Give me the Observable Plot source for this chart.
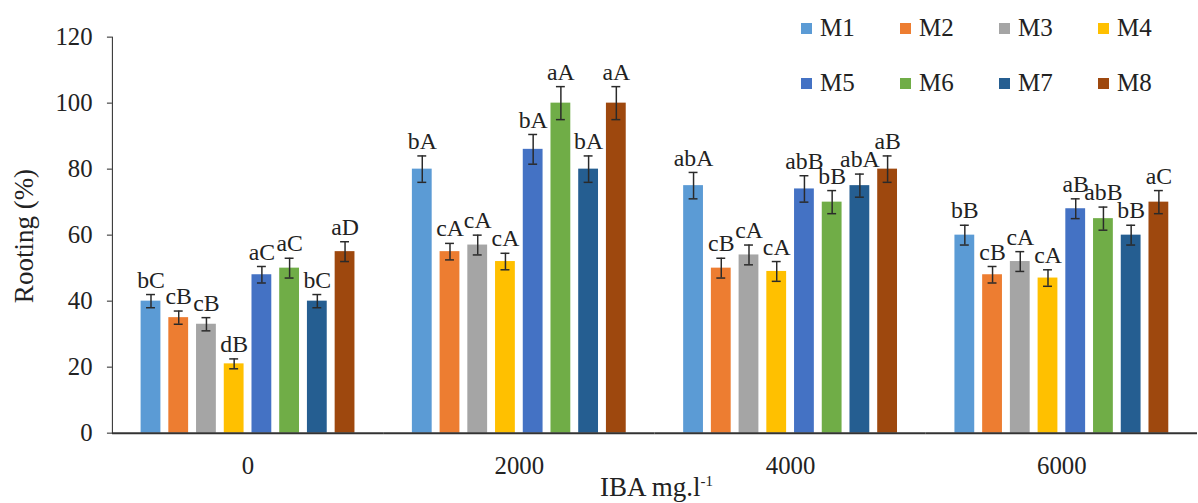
<!DOCTYPE html>
<html>
<head>
<meta charset="utf-8">
<script src="https://cdn.jsdelivr.net/npm/d3@7"></script>
<script src="https://cdn.jsdelivr.net/npm/@observablehq/plot@0.6"></script>
<style>
  html, body { margin: 0; padding: 0; background: #fff; overflow: hidden; }
  #wrap { position: relative; width: 1198px; height: 503px; overflow: hidden; }
  #chart svg, #chart svg text { font-family: "Liberation Serif", serif !important; }
  #legend { position: absolute; left: 801px; top: 13px; font-family: "Liberation Serif", serif; font-size: 25px; color: #222; }
  .row { display: flex; height: 30px; line-height: 30px; margin-bottom: 25px; }
  .item { width: 99px; display: flex; align-items: center; }
  .sw { width: 11px; height: 11px; margin-right: 8px; }
  #xtitle { position: absolute; left: 600px; top: 474px; font-family: "Liberation Serif", serif; font-size: 27px; line-height: 27px; color: #222; white-space: nowrap; }
  #xtitle sup { font-size: 15px; vertical-align: 10px; line-height: 0; }
  #ytitle { position: absolute; left: 24px; top: 236px; transform: translate(-50%, -50%) rotate(-90deg); font-family: "Liberation Serif", serif; font-size: 27px; line-height: 27px; color: #222; white-space: nowrap; }
</style>
</head>
<body>
<div id="wrap">
  <div id="chart"></div>
  <div id="legend"></div>
  <div id="ytitle">Rooting (%)</div>
  <div id="xtitle">IBA mg.l<sup>-1</sup></div>
</div>
<script>
const doses = ["0", "2000", "4000", "6000"];
const series = ["M1", "M2", "M3", "M4", "M5", "M6", "M7", "M8"];
const colors = ["#5B9BD5", "#ED7D31", "#A5A5A5", "#FFC000", "#4472C4", "#70AD47", "#255E91", "#9E480E"];
const yTicks = [0, 20, 40, 60, 80, 100, 120];

const rooting0    = [40, 35, 33, 21, 48, 50, 40, 55];
const rooting2000 = [80, 55, 57, 52, 86, 100, 80, 100];
const rooting4000 = [75, 50, 54, 49, 74, 70, 75, 80];
const rooting6000 = [60, 48, 52, 47, 68, 65, 60, 70];

const err0    = [2, 2, 2, 1.5, 2.5, 3, 2, 3];
const err2000 = [4, 2.5, 3, 2.5, 4.5, 5, 4, 5];
const err4000 = [4, 3, 3, 3, 4, 3.5, 3.5, 4];
const err6000 = [3, 2.5, 3, 2.5, 3, 3.5, 3, 3.5];

const letters0    = ["bC", "cB", "cB", "dB", "aC", "aC", "bC", "aD"];
const letters2000 = ["bA", "cA", "cA", "cA", "bA", "aA", "bA", "aA"];
const letters4000 = ["abA", "cB", "cA", "cA", "abB", "bB", "abA", "aB"];
const letters6000 = ["bB", "cB", "cA", "cA", "aB", "abB", "bB", "aC"];

const valuesByDose = [rooting0, rooting2000, rooting4000, rooting6000];
const errByDose = [err0, err2000, err4000, err6000];
const lettersByDose = [letters0, letters2000, letters4000, letters6000];

const rows = doses.flatMap((d, i) => series.map((s, j) => ({
  dose: d, series: s, value: valuesByDose[i][j], err: errByDose[i][j], label: lettersByDose[i][j]
})));

const ink = "#2a2a2a";

const chart = Plot.plot({
  width: 1210,
  height: 503,
  marginLeft: 111,
  marginRight: 0,
  marginTop: 37,
  marginBottom: 66,
  style: { fontFamily: "\"Liberation Serif\", serif", fontSize: "25px", color: "#222", background: "transparent", overflow: "visible" },
  fx: { domain: doses, padding: 0, label: null, tickSize: 0, tickPadding: 23 },
  x: { domain: series, axis: null, paddingInner: 0.28, paddingOuter: 0.88 },
  y: { domain: [0, 120], ticks: yTicks, tickSize: 5, tickPadding: 15, label: null, line: true },
  color: { domain: series, range: colors },
  marks: [
    Plot.barY(rows, { fx: "dose", x: "series", y: "value", fill: "series" }),
    Plot.ruleX(rows, { fx: "dose", x: "series", y1: d => d.value - d.err, y2: d => d.value + d.err, stroke: ink, strokeWidth: 1.5 }),
    Plot.tickY(rows, { fx: "dose", x: "series", y: d => d.value + d.err, insetLeft: 5.5, insetRight: 5.5, stroke: ink, strokeWidth: 1.5 }),
    Plot.tickY(rows, { fx: "dose", x: "series", y: d => d.value - d.err, insetLeft: 5.5, insetRight: 5.5, stroke: ink, strokeWidth: 1.5 }),
    Plot.ruleY([0], { stroke: "#333", strokeWidth: 2 }),
    Plot.text(rows, { fx: "dose", x: "series", y: d => d.value + d.err, text: "label", lineAnchor: "bottom", dy: -7, fontSize: 24, fill: "#222" })
  ]
});
document.getElementById("chart").appendChild(chart);

const legend = document.getElementById("legend");
[series.slice(0, 4), series.slice(4)].forEach(group => {
  const row = document.createElement("div");
  row.className = "row";
  group.forEach(s => {
    const item = document.createElement("div");
    item.className = "item";
    const sw = document.createElement("span");
    sw.className = "sw";
    sw.style.background = colors[series.indexOf(s)];
    const t = document.createElement("span");
    t.textContent = s;
    item.appendChild(sw);
    item.appendChild(t);
    row.appendChild(item);
  });
  legend.appendChild(row);
});
</script>
</body>
</html>
